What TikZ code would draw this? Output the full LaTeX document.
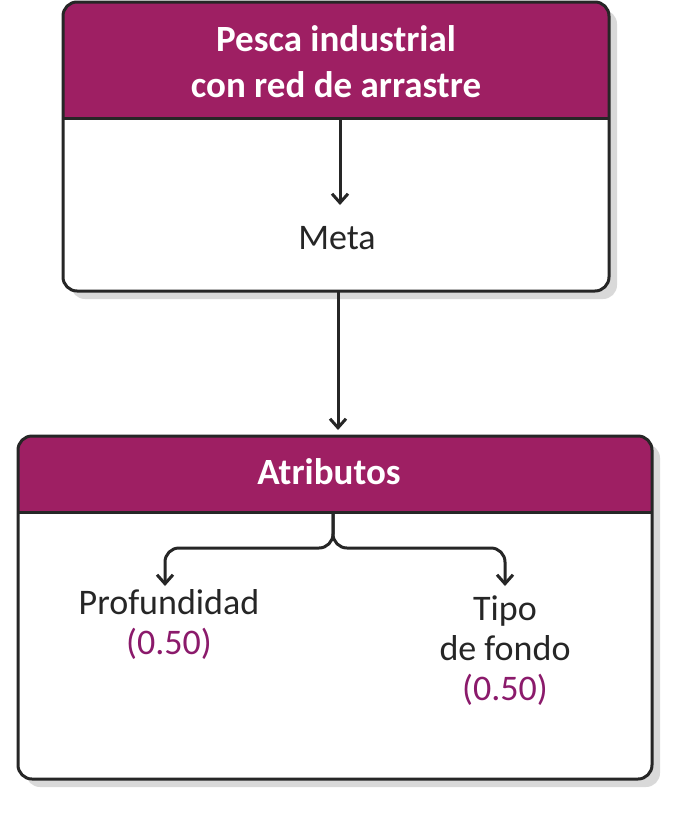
\documentclass[tikz,border=0pt]{standalone}
\usepackage{fontspec}
\setmainfont{Carlito}
\usetikzlibrary{arrows.meta}
\definecolor{mag}{HTML}{9E1F63}
\definecolor{num}{HTML}{8B1A6B}
\begin{document}
\begin{tikzpicture}[x=1pt,y=-1pt,
  arr/.style={line width=3pt,-{Straight Barb[length=9pt,width=16pt]}},
  txt/.style={font=\fontsize{36}{40}\selectfont,text=black!85,align=center},
  hdr/.style={font=\fontsize{37}{46}\selectfont\bfseries,text=white,align=center},
  box/.style={line width=3pt,draw=black!85,rounded corners=14pt}]
\useasboundingbox (0,0) rectangle (687,815);
% shadows
\fill[black!15,rounded corners=14pt] (71,10) rectangle (617,299);
\fill[black!15,rounded corners=14pt] (26,444) rectangle (660,787);
% top box
\fill[white,rounded corners=14pt] (63,2) rectangle (609,291);
\begin{scope}
\clip[rounded corners=14pt] (63,2) rectangle (609,291);
\fill[mag] (63,2) rectangle (609,118);
\end{scope}
\draw[box] (63,2) rectangle (609,291);
\draw[line width=3pt,draw=black!85] (63,118) -- (609,118);
% bottom box
\fill[white,rounded corners=14pt] (18,436) rectangle (652,779);
\begin{scope}
\clip[rounded corners=14pt] (18,436) rectangle (652,779);
\fill[mag] (18,436) rectangle (652,512);
\end{scope}
\draw[box] (18,436) rectangle (652,779);
\draw[line width=3pt,draw=black!85] (18,512) -- (652,512);
% nodes
\node[hdr] (h1) at (336,62) {Pesca industrial\\con red de arrastre};
\coordinate (h1b) at (340,118);
\node[txt] (meta) at (337,238) {Meta};
\coordinate (b1) at (338,291);
\coordinate (t2) at (338,430);
\node[hdr] (h2) at (329,472) {Atributos};
\coordinate (h2b) at (333,512);
\node[txt,anchor=north] (p) at (169,586) {Profundidad\\\textcolor{num}{(0.50)}};
\node[txt,anchor=north] (t) at (505,592) {Tipo\\de fondo\\\textcolor{num}{(0.50)}};
\coordinate (pa) at (165,586);
\coordinate (ta) at (505,586);
\draw[arr,draw=black!85] (h1b) -- (340,205);
\draw[arr,draw=black!85] (b1) -- (t2);
\draw[arr,draw=black!85,rounded corners=14pt] (h2b) -- (333,548) -- (165,548) -- (pa);
\draw[arr,draw=black!85,rounded corners=14pt] (h2b) -- (333,548) -- (505,548) -- (ta);
\end{tikzpicture}
\end{document}
